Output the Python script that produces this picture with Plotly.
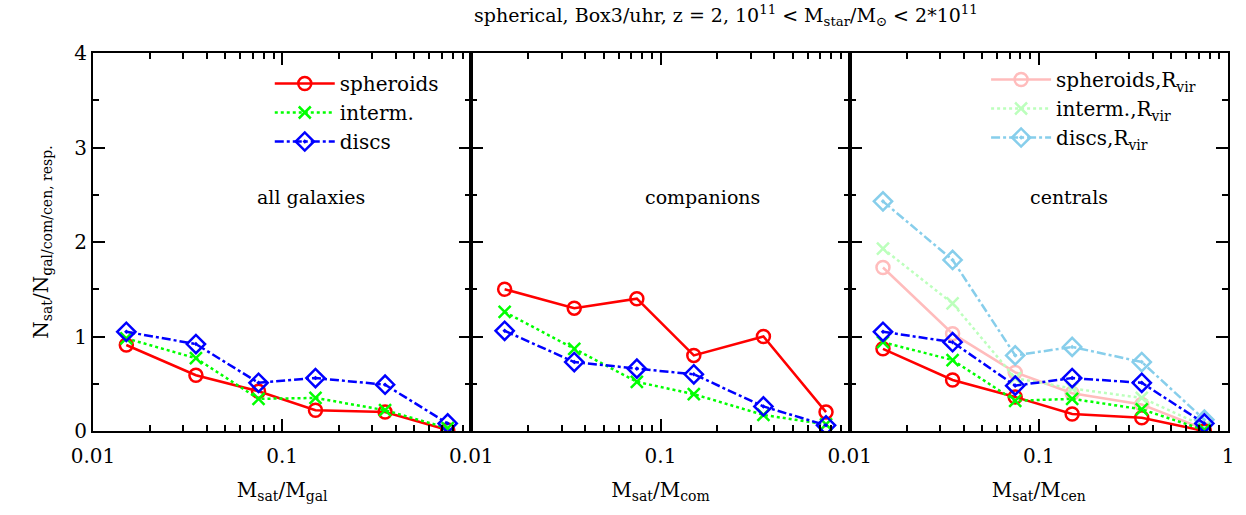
import plotly.graph_objects as go

# Satellite mass ratio bins (bin centres)
mass_ratio = [0.015, 0.035, 0.075, 0.15, 0.35, 0.75]

# all galaxies
all_spheroids = [0.91, 0.59, 0.42, 0.22, 0.20, 0.01]
all_interm = [0.98, 0.77, 0.34, 0.35, 0.22, 0.03]
all_discs = [1.05, 0.92, 0.51, 0.56, 0.49, 0.08]

# companions
com_spheroids = [1.50, 1.30, 1.40, 0.80, 1.00, 0.20]
com_interm = [1.26, 0.87, 0.52, 0.39, 0.17, 0.07]
com_discs = [1.06, 0.73, 0.66, 0.60, 0.26, 0.06]

# centrals
cen_spheroids = [0.87, 0.54, 0.36, 0.18, 0.14, 0.00]
cen_interm = [0.94, 0.75, 0.32, 0.34, 0.23, 0.01]
cen_discs = [1.05, 0.94, 0.48, 0.56, 0.51, 0.08]
cen_spheroids_rvir = [1.73, 1.03, 0.62, 0.40, 0.28, 0.02]
cen_interm_rvir = [1.93, 1.35, 0.56, 0.45, 0.35, 0.05]
cen_discs_rvir = [2.43, 1.81, 0.80, 0.89, 0.73, 0.12]

panel_titles = ["all galaxies", "companions", "centrals"]
x_titles = ["M<sub>sat</sub>/M<sub>gal</sub>", "M<sub>sat</sub>/M<sub>com</sub>",
            "M<sub>sat</sub>/M<sub>cen</sub>"]
y_title = "N<sub>sat</sub>/N<sub>gal/com/cen, resp.</sub>"
title_text = ("spherical, Box3/uhr, z = 2, 10<sup>11</sup> &lt; M<sub>star</sub>/M<sub>\u2299</sub>"
              " &lt; 2*10<sup>11</sup>")

FONT = "'DejaVu Serif', serif"
RED, GREEN, BLUE = "#ff0000", "#00ff00", "#0000ff"
PINK, LGREEN, SKY = "#ffbcbc", "#bcffbc", "#87ceeb"

styles = {
    "spheroids": dict(dash="solid", symbol="circle-open", size=13),
    "interm.": dict(dash="dot", symbol="x-thin", size=12),
    "discs": dict(dash="dashdot", symbol="diamond-open-dot", size=14),
}

fig = go.Figure()


def add_series(name, values, color, kind, axis, legend="legend", show=False):
    st = styles[kind]
    fig.add_trace(go.Scatter(
        x=mass_ratio, y=values, name=name, mode="lines+markers",
        xaxis="x" + axis, yaxis="y" + axis,
        line=dict(color=color, width=2.5, dash=st["dash"]),
        marker=dict(symbol=st["symbol"], size=st["size"], color=color,
                    line=dict(color=color, width=2.5)),
        showlegend=show, legend=legend,
    ))


# panel 3 light (R_vir) curves first so they sit underneath
add_series("spheroids,R<sub>vir</sub>", cen_spheroids_rvir, PINK, "spheroids", "3", "legend2", True)
add_series("interm.,R<sub>vir</sub>", cen_interm_rvir, LGREEN, "interm.", "3", "legend2", True)
add_series("discs,R<sub>vir</sub>", cen_discs_rvir, SKY, "discs", "3", "legend2", True)

add_series("spheroids", all_spheroids, RED, "spheroids", "", "legend", True)
add_series("interm.", all_interm, GREEN, "interm.", "", "legend", True)
add_series("discs", all_discs, BLUE, "discs", "", "legend", True)

add_series("spheroids", com_spheroids, RED, "spheroids", "2")
add_series("interm.", com_interm, GREEN, "interm.", "2")
add_series("discs", com_discs, BLUE, "discs", "2")

add_series("spheroids", cen_spheroids, RED, "spheroids", "3")
add_series("interm.", cen_interm, GREEN, "interm.", "3")
add_series("discs", cen_discs, BLUE, "discs", "3")

minor_x = [m * d for d in (0.01, 0.1) for m in range(2, 10)]
domains = [[0, 1 / 3], [1 / 3, 2 / 3], [2 / 3, 1]]
tick_font = dict(family=FONT, size=20, color="black")

layout = dict(
    width=1246, height=515,
    margin=dict(l=93, r=14, t=53, b=84),
    plot_bgcolor="white", paper_bgcolor="white",
    font=dict(family=FONT, size=20, color="black"),
    showlegend=True,
)

for i in range(3):
    sfx = "" if i == 0 else str(i + 1)
    major = [0.01, 0.1] if i < 2 else [0.01, 0.1, 1]
    layout["xaxis" + sfx] = dict(
        type="log", range=[-2, 0], domain=domains[i], anchor="y" + sfx,
        tickmode="array", tickvals=major, ticktext=[str(v) for v in major],
        ticks="inside", ticklen=12, tickwidth=1.5, tickcolor="black",
        minor=dict(tickmode="array", tickvals=minor_x, ticks="inside",
                   ticklen=6, tickwidth=1.5, tickcolor="black"),
        showline=True, linecolor="black", linewidth=2, mirror="ticks",
        showgrid=False, zeroline=False, tickfont=tick_font, ticklabelstandoff=6,
        title=dict(text=x_titles[i], font=dict(family=FONT, size=20), standoff=16),
    )
    layout["yaxis" + sfx] = dict(
        range=[0, 4], anchor="x" + sfx, tickmode="array", tickvals=[0, 1, 2, 3, 4],
        ticks="inside", ticklen=12, tickwidth=1.5, tickcolor="black",
        minor=dict(tickmode="array", tickvals=[0.5, 1.5, 2.5, 3.5], ticks="inside",
                   ticklen=6, tickwidth=1.5, tickcolor="black"),
        showline=True, linecolor="black", linewidth=2, mirror="ticks",
        showgrid=False, zeroline=False, tickfont=tick_font,
        showticklabels=(i == 0),
    )

layout["yaxis"]["title"] = dict(text=y_title, font=dict(family=FONT, size=20), standoff=20)

layout["legend"] = dict(
    x=(445 - 93) / 1139, xanchor="right", y=(431 - 64) / 378, yanchor="top",
    bgcolor="rgba(0,0,0,0)", font=dict(family=FONT, size=20),
    tracegroupgap=0, itemwidth=60,
)
layout["legend2"] = dict(
    x=(1205 - 93) / 1139, xanchor="right", y=(431 - 60) / 378, yanchor="top",
    bgcolor="rgba(0,0,0,0)", font=dict(family=FONT, size=20),
    tracegroupgap=0, itemwidth=60,
)

annotations = [
    dict(text=title_text, xref="paper", yref="paper", x=(728 - 93) / 1139,
         y=(431 - 16) / 378, xanchor="center", yanchor="middle", showarrow=False,
         font=dict(family=FONT, size=19)),
]
panel_x = [312, 705, 1072]
for i, t in enumerate(panel_titles):
    annotations.append(dict(
        text=t, xref="paper", yref="paper", x=(panel_x[i] - 93) / 1139,
        y=(431 - 197) / 378, xanchor="center", yanchor="middle", showarrow=False,
        font=dict(family=FONT, size=19)))
layout["annotations"] = annotations

fig.update_layout(**layout)
fig.write_html("out.html")
